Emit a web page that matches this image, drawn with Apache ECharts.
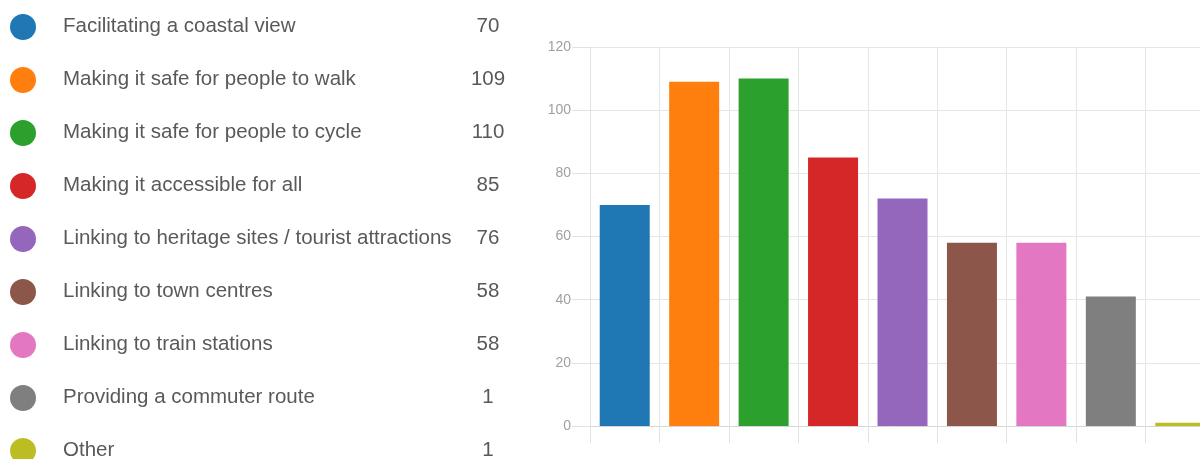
<!DOCTYPE html>
<html>
<head>
<meta charset="utf-8">
<script src="https://cdn.jsdelivr.net/npm/echarts@6/dist/echarts.min.js"></script>
<style>
html,body{margin:0;padding:0;background:#fff;}
#chart{width:1200px;height:459px;}
</style>
</head>
<body>
<div id="chart"></div>
<script>
var categories = [
  'Facilitating a coastal view',
  'Making it safe for people to walk',
  'Making it safe for people to cycle',
  'Making it accessible for all',
  'Linking to heritage sites / tourist attractions',
  'Linking to town centres',
  'Linking to train stations',
  'Providing a commuter route',
  'Other'
];
var legendCounts = [70, 109, 110, 85, 76, 58, 58, 1, 1];
var barValues = [70, 109, 110, 85, 72, 58, 58, 41, 1];
var yTicks = [0, 20, 40, 60, 80, 100, 120];
var colors = ['#1f77b4', '#ff7f0e', '#2ca02c', '#d62728', '#9467bd', '#8c564b', '#e377c2', '#7f7f7f', '#bcbd22'];

var countByName = {};
categories.forEach(function (c, i) { countByName[c] = legendCounts[i]; });

var series = categories.map(function (name, i) {
  return {
    name: name,
    type: 'bar',
    barWidth: 50,
    barGap: '-100%',
    itemStyle: { color: colors[i] },
    emphasis: { disabled: true },
    data: barValues.map(function (v, j) { return j === i ? v : '-'; })
  };
});

var chart = echarts.init(document.getElementById('chart'), null, { renderer: 'canvas' });
chart.setOption({
  animation: false,
  color: colors,
  legend: {
    orient: 'vertical',
    left: 10,
    top: 14,
    height: 600,
    padding: 0,
    itemWidth: 26,
    itemHeight: 26,
    itemGap: 27,
    icon: 'circle',
    selectedMode: false,
    data: categories,
    formatter: function (name) {
      return '{n|' + name + '}{v|' + countByName[name] + '}';
    },
    textStyle: {
      rich: {
        n: { fontFamily: 'Liberation Sans, Arial, sans-serif', fontSize: 20.5, color: '#595959', width: 397, padding: [0, 0, 2, 22], lineHeight: 26 },
        v: { fontFamily: 'Liberation Sans, Arial, sans-serif', fontSize: 20.5, color: '#595959', width: 56, align: 'center', padding: [0, 0, 2, 0], lineHeight: 26 }
      }
    }
  },
  grid: { left: 590, top: 47, bottom: 33, width: 625, containLabel: false, outerBoundsMode: 'none' },
  xAxis: {
    type: 'category',
    data: categories,
    boundaryGap: true,
    axisLine: { show: true, lineStyle: { color: '#d6d6d6', width: 1 } },
    axisTick: { show: true, interval: 0, length: 17, lineStyle: { color: '#e2e2e2' } },
    axisLabel: { show: false, interval: 0 },
    splitLine: { show: true, interval: 0, lineStyle: { color: '#e6e6e6', width: 1 } }
  },
  yAxis: {
    type: 'value',
    min: yTicks[0],
    max: yTicks[yTicks.length - 1],
    interval: yTicks[1] - yTicks[0],
    axisLine: { show: true, lineStyle: { color: '#e2e2e2' } },
    axisTick: { show: true, length: 18, lineStyle: { color: '#e2e2e2' } },
    axisLabel: { margin: 19, color: '#a0a0a0', fontSize: 14, fontFamily: 'Liberation Sans Narrow, Liberation Sans, sans-serif' },
    splitLine: { show: true, lineStyle: { color: '#e6e6e6', width: 1 } }
  },
  series: series
});
</script>
</body>
</html>
